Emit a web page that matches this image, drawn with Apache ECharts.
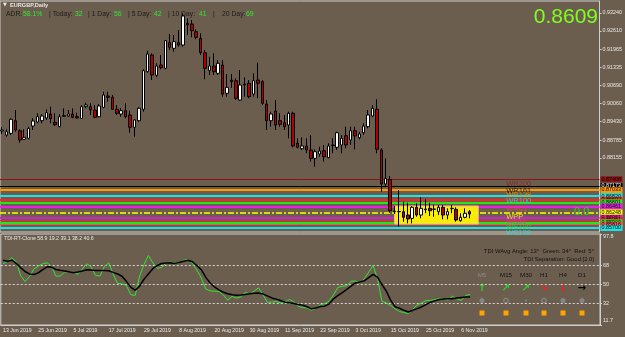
<!DOCTYPE html>
<html>
<head>
<meta charset="utf-8">
<script src="https://cdn.jsdelivr.net/npm/echarts@6/dist/echarts.min.js"></script>
<style>
html,body{margin:0;padding:0;background:#6c5e4f;}
#chart{width:625px;height:337px;}
</style>
</head>
<body>
<div id="chart"></div>
<script>
// EURGBP daily bars (weekdays only)
var dates = ['13 Jun 2019','14 Jun 2019','17 Jun 2019','18 Jun 2019','19 Jun 2019','20 Jun 2019','21 Jun 2019','24 Jun 2019','25 Jun 2019','26 Jun 2019','27 Jun 2019','28 Jun 2019',
'1 Jul 2019','2 Jul 2019','3 Jul 2019','4 Jul 2019','5 Jul 2019','8 Jul 2019','9 Jul 2019','10 Jul 2019','11 Jul 2019','12 Jul 2019','15 Jul 2019','16 Jul 2019','17 Jul 2019','18 Jul 2019','19 Jul 2019','22 Jul 2019','23 Jul 2019','24 Jul 2019','25 Jul 2019','26 Jul 2019','29 Jul 2019','30 Jul 2019','31 Jul 2019',
'1 Aug 2019','2 Aug 2019','5 Aug 2019','6 Aug 2019','7 Aug 2019','8 Aug 2019','9 Aug 2019','12 Aug 2019','13 Aug 2019','14 Aug 2019','15 Aug 2019','16 Aug 2019','19 Aug 2019','20 Aug 2019','21 Aug 2019','22 Aug 2019','23 Aug 2019','26 Aug 2019','27 Aug 2019','28 Aug 2019','29 Aug 2019','30 Aug 2019',
'2 Sep 2019','3 Sep 2019','4 Sep 2019','5 Sep 2019','6 Sep 2019','9 Sep 2019','10 Sep 2019','11 Sep 2019','12 Sep 2019','13 Sep 2019','16 Sep 2019','17 Sep 2019','18 Sep 2019','19 Sep 2019','20 Sep 2019','23 Sep 2019','24 Sep 2019','25 Sep 2019','26 Sep 2019','27 Sep 2019','30 Sep 2019',
'1 Oct 2019','2 Oct 2019','3 Oct 2019','4 Oct 2019','7 Oct 2019','8 Oct 2019','9 Oct 2019','10 Oct 2019','11 Oct 2019','14 Oct 2019','15 Oct 2019','16 Oct 2019','17 Oct 2019','18 Oct 2019','21 Oct 2019','22 Oct 2019','23 Oct 2019','24 Oct 2019','25 Oct 2019','28 Oct 2019','29 Oct 2019','30 Oct 2019','31 Oct 2019',
'1 Nov 2019','4 Nov 2019','5 Nov 2019','6 Nov 2019','7 Nov 2019','8 Nov 2019'];

// [open, close, low, high]
var ohlc = [
[0.89102,0.89137,0.88997,0.89242],[0.88962,0.89077,0.88902,0.89161],[0.89021,0.89512,0.88962,0.89547],[0.89463,0.89137,0.89077,0.89838],
[0.89112,0.88786,0.88692,0.89161],[0.88811,0.88881,0.88786,0.89161],[0.88846,0.89197,0.88811,0.89253],[0.89277,0.89453,0.89137,0.89547],
[0.89417,0.89603,0.89372,0.89723],[0.89463,0.89628,0.89372,0.89698],[0.89558,0.89744,0.89488,0.89863],[0.89698,0.89533,0.89372,0.89954],
[0.89407,0.89323,0.89277,0.89723],[0.89253,0.89603,0.89232,0.89688],[0.89635,0.89621,0.89603,0.89898],[0.89628,0.89698,0.89603,0.89838],
[0.89698,0.89582,0.89547,0.89898],[0.89603,0.89558,0.89547,0.89744],[0.89547,0.89954,0.89540,0.90014],[0.89954,0.90014,0.89898,0.90094],
[0.89954,0.89838,0.89663,0.90073],[0.89838,0.89582,0.89547,0.90014],[0.89603,0.89979,0.89582,0.90049],[0.89933,0.90364,0.89898,0.90480],
[0.90329,0.90284,0.90129,0.90480],[0.90284,0.89863,0.89838,0.90364],[0.89863,0.89723,0.89663,0.90014],[0.89698,0.89814,0.89603,0.89898],
[0.89814,0.89603,0.89547,0.90073],[0.89663,0.89232,0.89042,0.89814],[0.89232,0.89488,0.88902,0.89512],[0.89463,0.89898,0.89428,0.89933],
[0.89863,0.91217,0.89779,0.91266],[0.91182,0.91802,0.91146,0.91918],[0.91767,0.91066,0.90890,0.91827],[0.91055,0.91381,0.90985,0.91476],
[0.91416,0.91322,0.91266,0.91767],[0.91301,0.92269,0.91266,0.92293],[0.92199,0.92037,0.91943,0.92504],[0.92002,0.92234,0.91883,0.92469],
[0.92199,0.92118,0.92058,0.92644],[0.92118,0.93135,0.92058,0.93230],[0.92879,0.92819,0.92469,0.93054],[0.92854,0.92619,0.92388,0.92995],
[0.92584,0.92388,0.92318,0.92668],[0.92353,0.91848,0.91767,0.92528],[0.91848,0.91301,0.90915,0.91943],[0.91217,0.91381,0.91066,0.91708],
[0.91381,0.91182,0.91066,0.91827],[0.91125,0.91476,0.91066,0.91592],[0.91416,0.90399,0.90305,0.91592],[0.90424,0.90634,0.90305,0.91101],
[0.90890,0.90831,0.90610,0.91101],[0.90866,0.90249,0.90189,0.90950],[0.90189,0.90715,0.90164,0.91241],[0.90750,0.90715,0.90305,0.90985],
[0.90775,0.90305,0.90249,0.90890],[0.90399,0.90866,0.90305,0.91125],[0.90890,0.90775,0.90249,0.91497],[0.90831,0.90073,0.90014,0.90890],
[0.90049,0.89463,0.89137,0.90189],[0.89463,0.89698,0.89253,0.89779],[0.89803,0.89312,0.89137,0.90189],[0.89463,0.89337,0.89253,0.89723],
[0.89393,0.89253,0.89137,0.89663],[0.89312,0.89723,0.88846,0.89779],[0.89723,0.88576,0.88530,0.89779],[0.88671,0.88530,0.88495,0.88846],
[0.88481,0.88576,0.88436,0.88881],[0.88576,0.88436,0.88320,0.88846],[0.88436,0.88144,0.88025,0.88962],[0.88144,0.88376,0.87850,0.88460],
[0.88295,0.88400,0.88201,0.88551],[0.88411,0.88201,0.88025,0.88611],[0.88165,0.88576,0.88144,0.88671],[0.88611,0.88595,0.88320,0.88846],
[0.88530,0.89042,0.88436,0.89077],[0.88611,0.88846,0.88320,0.88962],[0.88937,0.88611,0.88495,0.89253],[0.88786,0.89112,0.88611,0.89253],
[0.89112,0.88927,0.88460,0.89253],[0.88867,0.88997,0.88811,0.89077],[0.89042,0.89277,0.88962,0.89372],[0.89253,0.89663,0.89197,0.89838],
[0.89628,0.89898,0.89582,0.90014],[0.89863,0.88460,0.88320,0.90214],[0.88436,0.87243,0.86973,0.88495],[0.87243,0.87443,0.87148,0.88144],
[0.87408,0.86307,0.86237,0.87524],[0.86286,0.86272,0.86191,0.86472],[0.86279,0.86268,0.85746,0.87033],[0.86272,0.86075,0.85921,0.86622],
[0.86156,0.86016,0.85865,0.86587],[0.86040,0.86426,0.85865,0.86472],[0.86426,0.86156,0.86096,0.86566],[0.86156,0.86391,0.86040,0.86777],
[0.86366,0.86349,0.86216,0.86707],[0.86391,0.86307,0.86121,0.86587],[0.86356,0.86366,0.86096,0.86507],[0.86272,0.86426,0.86156,0.86507],
[0.86426,0.86156,0.86005,0.86507],[0.86156,0.86272,0.86005,0.86391],[0.86391,0.86380,0.86216,0.86507],[0.86356,0.85981,0.85921,0.86426],
[0.85956,0.86075,0.85921,0.86216],[0.86075,0.86216,0.86040,0.86391],[0.86272,0.86191,0.86040,0.86331]
];

// TDI sub window
var tdiGreen = [69.6,72,75.3,71.5,58.5,52.8,57.3,64.6,67.4,69.6,70.5,67.4,58,58,61.8,62.4,61.2,59.8,64.6,69.6,
66.8,58.6,58,66.8,70.5,59.8,51,50.7,49,40.5,39.6,58,69,77.5,70.5,65.5,66,70.5,71.2,70.5,
70.5,73,73.7,69.9,63.6,56.3,45.9,44,43.7,43.4,40.2,35.2,38.9,37.1,38.3,42.7,41.1,43.7,46.9,40.2,
33.3,33.3,33.9,32.6,33.3,35.8,33.9,29.5,28,28,25.7,27.6,30.8,32,34.2,40.2,47.2,48.4,48.7,53.2,
53.2,51.6,55.4,61.7,68,55.7,34.2,32.6,30.1,27,24.4,23.5,22.5,26.6,30.7,32.6,34.9,34.9,35.8,36.8,
36.5,35.2,38.9,36.5,34.9,39.6,40.6];
var tdiSignal = [73,72,73,70,66,62.3,60,59.5,61,64,66.8,66.5,64.2,63.4,62.8,62,61.2,61.8,62.8,64,
63.8,63.3,63.3,63.3,63,61.5,60,57.8,53,47.5,44.5,48.5,55,60,65,68,69.9,70.4,70.5,70,
70.8,72,73,71.5,68,64,57,51.5,47.7,45,42.7,41.3,40.4,39.8,40,40.6,41.3,41.8,42,41,
39.3,37.3,36.2,34.8,33.3,32.8,32,31,30.5,29,27,27.8,29.2,29.5,31.5,36.5,39.5,42.3,45.3,48.5,
51.5,52.3,53.5,56.5,59.5,57,50,43.7,35,29,27.5,25.6,24,25.7,27.2,28.8,31,33.2,34.5,35.8,
36.3,36.5,36.5,37.2,37.8,38.1,38.2];
var tdiLevels = [68, 50, 32];

// axis ticks
var priceTicks = [0.93240, 0.92610, 0.91965, 0.91335, 0.90690, 0.90060, 0.89430, 0.88785, 0.88155];
var tdiTicks = [97.8, 68, 50, 32, 11.7];

// pivot / level lines
var levelPrices = [0.87408, 0.87173, 0.87033, 0.86820, 0.86692, 0.86601, 0.86461, 0.86248, 0.86061, 0.85981, 0.85900, 0.85816, 0.85700];
var levelNames = ['WR200', 'WR161', 'WR138', 'WR100', 'WR61', 'WPP', 'WS61', 'WS100', 'WS138'];
var levelNamePrices = [0.87408, 0.87173, 0.87033, 0.86820, 0.86520, 0.86248, 0.86061, 0.85900, 0.85700];
var boxBars = [89, 108];
var boxPrices = [0.86472, 0.85840];

// header texts
var adrLabels = ['ADR:', '| Today:', '| 1 Day:', '| 5 Day:', '| 10 Day:', '|', '20 Day:'];
var adrValues = ['58.1%', '32', '56', '42', '41', '', '69'];
var bigPrice = '0.8609';
var tdiLegend = 'TDI-RT-Clone 58.9 19.2 39.1 38.2 40.6';
var tdiInfo = ['TDI WAvg Angle: 13°  Green: 34°  Red: 5°', 'TDI Separation: Good [2.0]'];
var tfNames = ['M5', 'M15', 'M30', 'H1', 'H4', 'D1'];
var tfArrows = ['↑', '↗', '↗', '↘', '↓', '→'];
var tfDots = ['fill', 'ring', 'dot', 'ring', 'fill', 'fill'];

// styles
var FONT = "'Liberation Sans',Arial,sans-serif";
var levelColors = ['#8b1414','#000000','#ff9900','#1ee3e6','#ff2020','#20e620','#e620e6','#ffff00','#d020d0','#ff2020','#20e620','#ff5050','#1ee3e6'];
var levelWidths = [1,1,2,2,2,2,2,1.5,2,1,2,1,2];
var nameColors = ['#8b1a1a','#000000','#ff9900','#1ee3e6','#ff3366','#ffff00','#e633aa','#22dd22','#1ee3e6'];
var arrowColors = ['#22dd22','#22dd22','#22dd22','#ff1a1a','#ff1a1a','#000000'];
var tfX = [482, 506, 526, 544, 563, 582];
var adrLabelX = [6, 49, 88, 128, 168, 213, 222];
var adrValueX = [23, 75, 114, 154, 199, 0, 246];

var cats = dates.concat(new Array(29).fill(''));
function showTick(i, v) { return i % 8 === 0 && v !== ''; }

var myChart = echarts.init(document.getElementById('chart'));

var graphics = [
	{type: 'text', x: 3, y: 5, style: {text: '▼', fill: '#e8e8e8', fontSize: 5, fontFamily: 'DejaVu Sans', verticalAlign: 'middle'}},
	{type: 'text', x: 10, y: 5, style: {text: 'EURGBP,Daily', fill: '#e8e8e8', fontSize: 5.6, fontWeight: 'bold', fontFamily: FONT, verticalAlign: 'middle'}},
	{type: 'text', x: 598, y: 17, z: 100, style: {text: bigPrice, fill: '#7fff1e', fontSize: 21, fontFamily: FONT, align: 'right', verticalAlign: 'middle'}},
	{type: 'text', x: 574, y: 212, z: 100, style: {text: '0.0', fill: '#33cc33', fontSize: 11, fontFamily: FONT, verticalAlign: 'middle'}},
	{type: 'text', x: 4, y: 239, style: {text: tdiLegend, fill: '#e8e8e8', fontSize: 5.2, fontFamily: FONT, verticalAlign: 'middle'}},
	{type: 'text', x: 594, y: 251, style: {text: tdiInfo[0], fill: '#111', fontSize: 5.9, fontFamily: FONT, align: 'right', verticalAlign: 'middle'}},
	{type: 'text', x: 594, y: 259, style: {text: tdiInfo[1], fill: '#111', fontSize: 5.9, fontFamily: FONT, align: 'right', verticalAlign: 'middle'}}
];
adrLabels.forEach(function (t, k) {
	graphics.push({type: 'text', x: adrLabelX[k], y: 14, style: {text: t, fill: '#1a1a1a', fontSize: 6.8, fontFamily: FONT, verticalAlign: 'middle'}});
	if (adrValues[k]) {
		graphics.push({type: 'text', x: adrValueX[k], y: 14, style: {text: adrValues[k], fill: '#2ee82e', fontSize: 6.8, fontFamily: FONT, verticalAlign: 'middle'}});
	}
});
tfNames.forEach(function (t, k) {
	var cx = tfX[k];
	graphics.push({type: 'text', x: cx, y: 275, style: {text: t, fill: k === 0 ? '#8a8a8a' : '#111', fontSize: 6.2, fontFamily: FONT, align: 'center', verticalAlign: 'middle'}});
	graphics.push({type: 'text', x: cx, y: 288, style: {text: tfArrows[k], fill: arrowColors[k], fontSize: 10, fontWeight: 'bold', fontFamily: 'DejaVu Sans', align: 'center', verticalAlign: 'middle'}});
	if (tfDots[k] === 'fill') {
		graphics.push({type: 'circle', shape: {cx: cx, cy: 300.5, r: 2.5}, style: {fill: '#858585'}});
	} else if (tfDots[k] === 'ring') {
		graphics.push({type: 'circle', shape: {cx: cx, cy: 300.5, r: 2.2}, style: {fill: 'none', stroke: '#858585', lineWidth: 1.2}});
	} else {
		graphics.push({type: 'circle', shape: {cx: cx, cy: 300.5, r: 1}, style: {fill: '#858585'}});
	}
	graphics.push({type: 'rect', shape: {x: cx - 2.5, y: 310.5, width: 5, height: 5}, style: {fill: '#ffa500'}});
});

var option = {
	backgroundColor: '#6c5e4f',
	animation: false,
	grid: [
		{left: 0, right: 25, top: 1, height: 231, show: true, borderColor: '#cfcfcf', borderWidth: 1},
		{left: 0, right: 25, top: 234, height: 91, show: true, borderColor: '#cfcfcf', borderWidth: 1}
	],
	xAxis: [
		{type: 'category', gridIndex: 0, data: cats, boundaryGap: true, show: false},
		{
			type: 'category', gridIndex: 1, data: cats, boundaryGap: true,
			axisLine: {lineStyle: {color: '#cfcfcf'}},
			axisTick: {alignWithLabel: true, interval: showTick, length: 3, lineStyle: {color: '#cfcfcf'}},
			axisLabel: {interval: showTick, showMinLabel: true, align: 'left', margin: 3, color: '#e8e8e8', fontSize: 5.2, fontFamily: FONT}
		}
	],
	yAxis: [
		{
			type: 'value', gridIndex: 0, position: 'right', min: 0.85560, max: 0.93661, scale: true,
			axisLine: {show: true, lineStyle: {color: '#cfcfcf'}},
			axisTick: {show: true, length: 2, customValues: priceTicks, lineStyle: {color: '#cfcfcf'}},
			axisLabel: {customValues: priceTicks, margin: 3, color: '#e8e8e8', fontSize: 5.4, fontFamily: FONT,
				formatter: function (v) { return v.toFixed(5); }},
			splitLine: {show: false}
		},
		{
			type: 'value', gridIndex: 1, position: 'right', min: 11.7, max: 97.8,
			axisLine: {show: true, lineStyle: {color: '#cfcfcf'}},
			axisTick: {show: true, length: 2, customValues: tdiTicks, lineStyle: {color: '#cfcfcf'}},
			axisLabel: {customValues: tdiTicks, margin: 3, color: '#e8e8e8', fontSize: 5.4, fontFamily: FONT,
				formatter: function (v) {
					if (v === tdiTicks[0]) return '{top|' + v + '}';
					if (v === tdiTicks[tdiTicks.length - 1]) return '{bot|' + v + '}';
					return String(v);
				},
				rich: {
					top: {padding: [6, 0, 0, 0], fontSize: 5.4, color: '#e8e8e8'},
					bot: {padding: [0, 0, 8, 0], fontSize: 5.4, color: '#e8e8e8'}
				}},
			splitLine: {show: false}
		}
	],
	series: [
		{
			name: 'levels', type: 'line', xAxisIndex: 0, yAxisIndex: 0, data: [], z: 1,
			markLine: {
				symbol: 'none', silent: true, precision: 5, z: 1,
				data: levelPrices.map(function (p, k) {
					return {
						yAxis: p,
						lineStyle: {color: levelColors[k], width: levelWidths[k], type: k === 7 ? [6, 2, 2, 2] : 'solid'},
						label: {show: true, position: 'end', distance: 1, formatter: p.toFixed(5),
							backgroundColor: levelColors[k], color: k === 1 ? '#ffffff' : '#000000',
							fontSize: 5.4, fontFamily: FONT, padding: [1, 1, 0, 1], width: 20}
					};
				})
			}
		},
		{
			name: 'box', type: 'line', xAxisIndex: 0, yAxisIndex: 0, data: [], z: 2,
			markArea: {
				silent: true, z: 2,
				itemStyle: {color: 'rgba(255,250,0,0.92)', borderColor: '#ffaaa0', borderWidth: 1},
				data: [[{coord: [boxBars[0], boxPrices[0]]}, {coord: [boxBars[1], boxPrices[1]]}]]
			}
		},
		{
			name: 'EURGBP', type: 'candlestick', xAxisIndex: 0, yAxisIndex: 0, z: 3,
			barWidth: 3,
			data: ohlc,
			itemStyle: {color: '#ffffff', color0: '#b00000', borderColor: '#000000', borderColor0: '#000000', borderWidth: 1}
		},
		{
			name: 'names', type: 'scatter', xAxisIndex: 0, yAxisIndex: 0, z: 4, symbolSize: 1,
			itemStyle: {color: 'transparent'},
			data: levelNamePrices.map(function (p, k) {
				return {value: [114, p], name: levelNames[k],
					label: {show: true, position: 'right', distance: 1, offset: [0, 4.5], formatter: '{b}',
						color: nameColors[k], fontSize: 7.5, fontFamily: FONT}};
			})
		},
		{
			name: 'TDI green', type: 'line', xAxisIndex: 1, yAxisIndex: 1, data: tdiGreen, z: 2,
			symbol: 'none', lineStyle: {color: '#2ee82e', width: 1},
			markLine: {
				symbol: 'none', silent: true, label: {show: false}, z: 1,
				lineStyle: {color: '#d8d8d8', type: [2, 2], width: 1},
				data: tdiLevels.map(function (v) { return {yAxis: v}; })
			}
		},
		{
			name: 'TDI signal', type: 'line', xAxisIndex: 1, yAxisIndex: 1, data: tdiSignal, z: 3,
			symbol: 'none', lineStyle: {color: '#000000', width: 1.5}
		}
	],
	graphic: graphics
};

myChart.setOption(option);
</script>
</body>
</html>
